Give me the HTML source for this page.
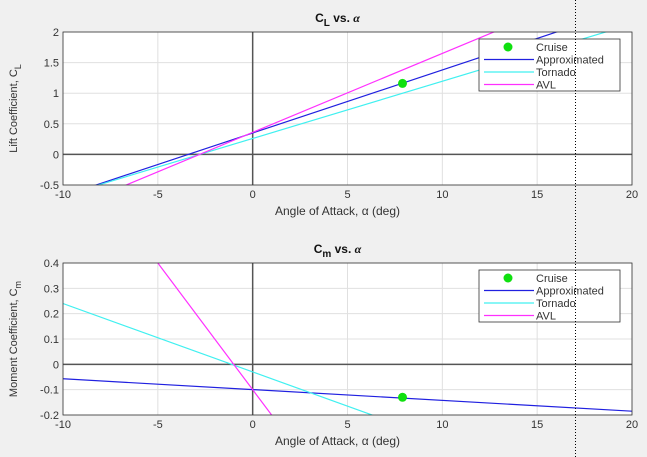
<!DOCTYPE html>
<html><head><meta charset="utf-8"><style>
html,body{margin:0;padding:0;background:#f0f0f0;width:647px;height:457px;overflow:hidden;}
svg{display:block;font-family:"Liberation Sans",sans-serif;position:absolute;left:0;top:0;}
</style></head><body>
<svg id="fig" width="647" height="457" viewBox="0 0 647 457" xmlns="http://www.w3.org/2000/svg">
<rect x="0" y="0" width="647" height="457" fill="#f0f0f0"/>
</svg>
<script>
const xTicks = [-10,-5,0,5,10,15,20];
const clTicks = [-0.5,0,0.5,1,1.5,2];
const cmTicks = [-0.2,-0.1,0,0.1,0.2,0.3,0.4];
const alphaEnds = [-10, 20];
const clApprox = [-0.68, 2.41];
const clTornado = [-0.675, 2.13];
const clAvl = [-0.93, 2.94];
const clCruise = [7.9, 1.16];
const cmApprox = [-0.057, -0.185];
const cmTornado = [0.24, -0.57];
const cmAvl = [0.9, -2.1];
const cmCruise = [7.9, -0.13];
const legendLabels = ["Cruise","Approximated","Tornado","AVL"];
const colors = {a:"#2020e0", t:"#40f0f0", v:"#ff30ff", c:"#10e010"};

const NS="http://www.w3.org/2000/svg";
const svg=document.getElementById('fig');
function el(tag,attrs,parent,text){const e=document.createElementNS(NS,tag);for(const k in attrs)e.setAttribute(k,attrs[k]);if(text!==undefined)e.textContent=text;(parent||svg).appendChild(e);return e;}

function panel(id,top,bottom,yMin,yMax,yTicks,title,sub,ylab,ysub,series,cruise,legTop){
  const L=63,R=632;
  const sx=v=>L+(v+10)/30*(R-L);
  const sy=v=>bottom-(v-yMin)/(yMax-yMin)*(bottom-top);
  const g=el('g',{});  
  const bg=el('rect',{x:L,y:top,width:R-L,height:bottom-top,fill:'#fff'},g);
   
  const cid='clip-'+id;
  const cp=el('clipPath',{id:cid},g); el('rect',{x:L,y:top,width:R-L,height:bottom-top},cp);
  xTicks.forEach(t=>{const gl=el('line',{x1:sx(t),x2:sx(t),y1:top,y2:bottom,stroke:'#e0e0e0','stroke-width':1},g);
     
    const tl=el('text',{x:sx(t),y:bottom+13,'font-size':11,'text-anchor':'middle',fill:'#333'},g,String(t));
     });
  yTicks.forEach(t=>{const gl=el('line',{x1:L,x2:R,y1:sy(t),y2:sy(t),stroke:'#e0e0e0','stroke-width':1},g);
     
    const tl=el('text',{x:L-4,y:sy(t)+4,'font-size':11,'text-anchor':'end',fill:'#333'},g,String(t));
     });
  const z1=el('line',{x1:sx(0),x2:sx(0),y1:top,y2:bottom,stroke:'#555','stroke-width':1.5},g);
   
  const z2=el('line',{x1:L,x2:R,y1:sy(0),y2:sy(0),stroke:'#555','stroke-width':1.5},g);
   
  series.forEach(s=>{const ln=el('line',{x1:sx(alphaEnds[0]),y1:sy(s.v[0]),x2:sx(alphaEnds[1]),y2:sy(s.v[1]),stroke:s.c,'stroke-width':1.2,'clip-path':'url(#'+cid+')'},g);
     });
  const pt=el('circle',{cx:sx(cruise[0]),cy:sy(cruise[1]),r:4.5,fill:colors.c},g);
   
  const ax=el('rect',{x:L,y:top,width:R-L,height:bottom-top,fill:'none',stroke:'#333','stroke-width':0.8},g);
   
  const tt=el('text',{x:(L+R)/2-10,y:top-10,'font-size':12,'font-weight':'bold','text-anchor':'middle',fill:'#111'},g);
   
  el('tspan',{},tt,title); el('tspan',{'font-size':10,dy:4},tt,sub); el('tspan',{dy:-4},tt,' vs. ');
  el('tspan',{'font-style':'italic','font-family':'Liberation Serif, serif'},tt,'α');
  const xl=el('text',{x:(L+R)/2-10,y:bottom+30,'font-size':12,'text-anchor':'middle',fill:'#333'},g,'Angle of Attack, α (deg)');
   
  const yl=el('text',{x:0,y:0,'font-size':11,'text-anchor':'middle',fill:'#333',transform:'translate(17,'+((top+bottom)/2)+') rotate(-90)'},g);
   
  el('tspan',{},yl,ylab); el('tspan',{'font-size':9,dy:4},yl,ysub);
  const lg=el('g',{},g);  
  el('rect',{x:479,y:legTop,width:141,height:52,fill:'#fff',stroke:'#333','stroke-width':0.8},lg);
  legendLabels.forEach((lab,i)=>{const yy=legTop+8+i*12.5;
    const en=el('g',{},lg);  
    if(i===0) el('circle',{cx:508,cy:yy,r:4.5,fill:colors.c},en);
    else el('line',{x1:484,x2:534,y1:yy,y2:yy,stroke:[null,colors.a,colors.t,colors.v][i],'stroke-width':1.2},en);
    el('text',{x:536,y:yy+4,'font-size':11,fill:'#333'},en,lab);});
}
panel('cl',32,185,-0.5,2,clTicks,'C','L','Lift Coefficient, C','L',
  [{n:'approximated',v:clApprox,c:colors.a},{n:'tornado',v:clTornado,c:colors.t},{n:'avl',v:clAvl,c:colors.v}],clCruise,39);
panel('cm',263,415,-0.2,0.4,cmTicks,'C','m','Moment Coefficient, C','m',
  [{n:'approximated',v:cmApprox,c:colors.a},{n:'tornado',v:cmTornado,c:colors.t},{n:'avl',v:cmAvl,c:colors.v}],cmCruise,270);
const dl=el('line',{x1:575.5,x2:575.5,y1:0,y2:457,stroke:'#000','stroke-width':1,'stroke-dasharray':'1,2'});


</script>
</body></html>
